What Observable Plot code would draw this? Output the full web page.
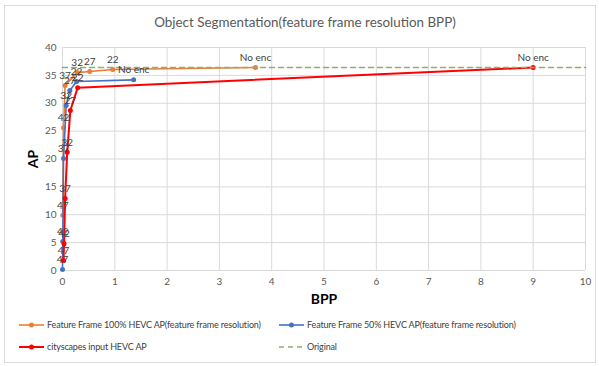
<!DOCTYPE html>
<html>
<head>
<meta charset="utf-8">
<script src="https://cdn.jsdelivr.net/npm/d3@7"></script>
<script src="https://cdn.jsdelivr.net/npm/@observablehq/plot@0.6"></script>
<style>
  html, body { margin: 0; padding: 0; background: #fff; }
  body { width: 599px; height: 366px; position: relative; overflow: hidden; font-family: Lato, "Liberation Sans", sans-serif; }
  #frame { position: absolute; left: 4px; top: 5px; width: 592px; height: 358px; border: 1px solid #d9d9d9; box-sizing: border-box; }
  #title { position: absolute; left: 0; top: 14px; width: 610px; text-align: center; font-size: 13.4px; color: #595959; }
  #chart { position: absolute; left: 0; top: 36px; }
  #legend { position: absolute; left: 0; top: 319px; width: 599px; font-size: 9px; letter-spacing: -0.15px; color: #404040; }
  .item { position: absolute; display: flex; align-items: center; white-space: nowrap; }
  .item svg { margin-right: 2px; }
  g[aria-label="y-axis label"] text, g[aria-label="x-axis label"] text { font-weight: bold; font-size: 14px; fill: #000; }
</style>
</head>
<body>
<div id="frame"></div>
<div id="title">Object Segmentation(feature frame resolution BPP)</div>
<div id="chart"></div>
<div id="legend"></div>
<script>
// Data labels (QP values)
const qpLabels = ["47", "42", "37", "32", "27", "22", "No enc"];

// Feature Frame 100% HEVC AP (feature frame resolution)
const ff100BPP = [0.005, 0.02, 0.05, 0.28, 0.52, 0.96, 3.69];
const ff100AP  = [9.9, 25.6, 33.2, 35.5, 35.7, 36.05, 36.4];

// Feature Frame 50% HEVC AP (feature frame resolution)
const ff50BPP = [0.0, 0.005, 0.02, 0.07, 0.14, 0.27, 1.36];
const ff50AP  = [0.2, 5.2, 20.1, 29.6, 32.3, 33.9, 34.2];

// cityscapes input HEVC AP
const cityBPP = [0.02, 0.03, 0.05, 0.09, 0.15, 0.29, 9.0];
const cityAP  = [1.8, 4.8, 12.9, 21.2, 28.7, 32.8, 36.4];

// Original (no compression)
const originalAP = 36.4;

const seriesNames = [
  "Feature Frame 100% HEVC AP(feature frame resolution)",
  "Feature Frame 50% HEVC AP(feature frame resolution)",
  "cityscapes input HEVC AP",
  "Original"
];
const seriesColors = ["#ED7D31", "#4472C4", "#FF0000", "#8DB06A"];

const xTicks = [0, 1, 2, 3, 4, 5, 6, 7, 8, 9, 10];
const yTicks = [0, 5, 10, 15, 20, 25, 30, 35, 40];

function build(bpp, ap, name) {
  return bpp.map((b, i) => ({bpp: b, ap: ap[i], qp: qpLabels[i], series: name}));
}
const s100 = build(ff100BPP, ff100AP, seriesNames[0]);
const s50 = build(ff50BPP, ff50AP, seriesNames[1]);
const sCity = build(cityBPP, cityAP, seriesNames[2]);
const sOrig = [{bpp: 0, ap: originalAP}, {bpp: 10, ap: originalAP}];

const labelStyle = {fontSize: 10, fill: "#404040", dy: -10};

const chart = Plot.plot({
  width: 599,
  height: 274,
  marginLeft: 62,
  marginRight: 14,
  marginTop: 11,
  marginBottom: 40,
  style: {fontFamily: "Lato, 'Liberation Sans', sans-serif", fontSize: "10px", color: "#595959", background: "transparent"},
  x: {domain: [0, 10]},
  y: {domain: [0, 40]},
  marks: [
    Plot.gridX(xTicks, {stroke: "#d9d9d9", strokeOpacity: 1}),
    Plot.gridY(yTicks, {stroke: "#d9d9d9", strokeOpacity: 1}),
    Plot.axisX(xTicks, {tickSize: 0, tickPadding: 7, label: "BPP", labelAnchor: "center", labelArrow: "none", labelOffset: 33, fill: "#595959", fontSize: 10}),
    Plot.axisY(yTicks, {tickSize: 0, tickPadding: 6, label: "AP", labelAnchor: "center", labelArrow: "none", labelOffset: 34, fill: "#595959", fontSize: 10}),
    Plot.line(s100, {x: "bpp", y: "ap", stroke: seriesColors[0], strokeWidth: 1.6}),
    Plot.dot(s100, {x: "bpp", y: "ap", fill: seriesColors[0], r: 2.5}),
    Plot.line(s50, {x: "bpp", y: "ap", stroke: seriesColors[1], strokeWidth: 1.6}),
    Plot.dot(s50, {x: "bpp", y: "ap", fill: seriesColors[1], r: 2.5}),
    Plot.line(sCity, {x: "bpp", y: "ap", stroke: seriesColors[2], strokeWidth: 2}),
    Plot.dot(sCity, {x: "bpp", y: "ap", fill: seriesColors[2], r: 2.5}),
    Plot.line(sOrig, {x: "bpp", y: "ap", stroke: seriesColors[3], strokeWidth: 1.6, strokeDasharray: "5,4"}),
    Plot.text(s100, {x: "bpp", y: "ap", text: "qp", ...labelStyle}),
    Plot.text(s50, {x: "bpp", y: "ap", text: "qp", ...labelStyle}),
    Plot.text(sCity, {x: "bpp", y: "ap", text: "qp", ...labelStyle})
  ]
});
document.getElementById("chart").appendChild(chart);

// Legend
const legend = document.getElementById("legend");
const positions = [[18, 0], [278, 0], [18, 22], [278, 22]];
seriesNames.forEach((name, i) => {
  const item = document.createElement("div");
  item.className = "item";
  item.style.left = positions[i][0] + "px";
  item.style.top = positions[i][1] + "px";
  const dashed = i === 3;
  const sw = dashed
    ? `<svg width="27" height="10"><line x1="1" y1="5" x2="26" y2="5" stroke="${seriesColors[i]}" stroke-width="1.6" stroke-dasharray="5,4"/></svg>`
    : `<svg width="27" height="10"><line x1="1" y1="5" x2="26" y2="5" stroke="${seriesColors[i]}" stroke-width="${i === 2 ? 2 : 1.6}"/><circle cx="13.5" cy="5" r="2.5" fill="${seriesColors[i]}"/></svg>`;
  item.innerHTML = sw + `<span>${name}</span>`;
  legend.appendChild(item);
});
</script>
</body>
</html>
